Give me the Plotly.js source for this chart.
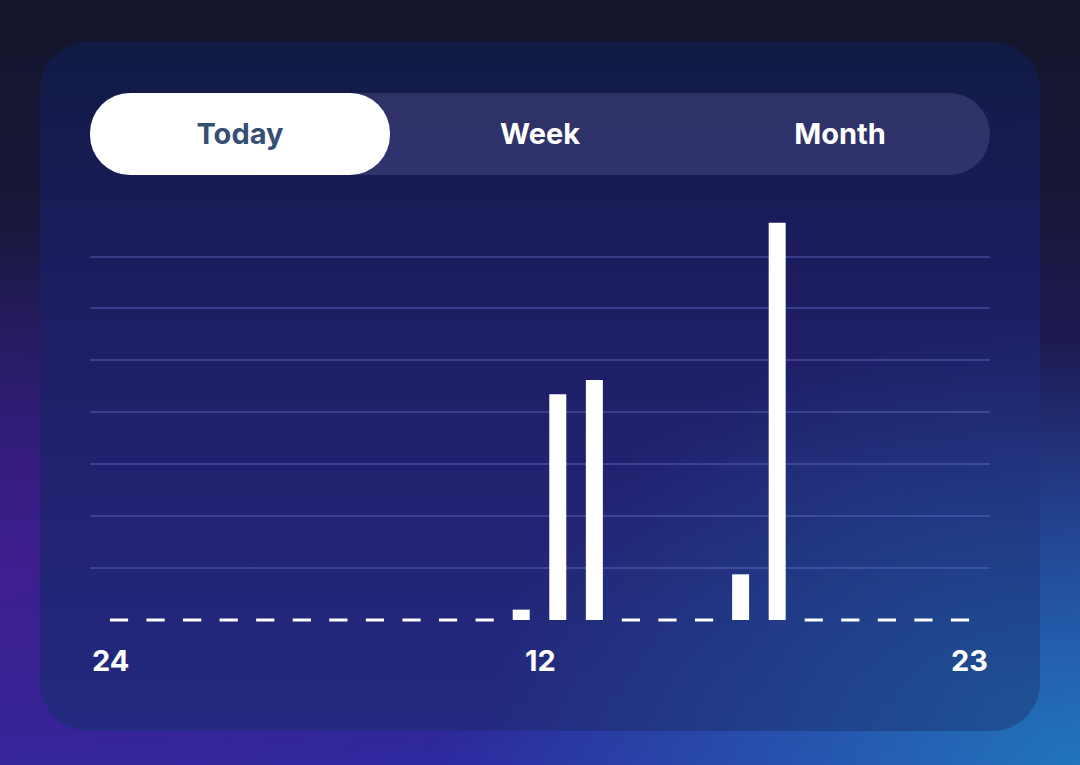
<!DOCTYPE html>
<html>
<head>
<meta charset="utf-8">
<script src="https://cdn.plot.ly/plotly-3.0.1.min.js"></script>
<style>
  html, body { margin: 0; padding: 0; width: 1080px; height: 765px; overflow: hidden; }
  body {
    position: relative;
    font-family: Inter, "Open Sans", Roboto, sans-serif;
    background:
      radial-gradient(ellipse 60% 55% at 100% 100%, rgba(32,125,190,0.9) 0%, rgba(32,120,190,0) 100%),
      radial-gradient(ellipse 55% 45% at 0% 75%, rgba(70,30,150,0.75) 0%, rgba(70,30,150,0) 100%),
      linear-gradient(to bottom, #14152a 0%, #171838 25%, #221c66 60%, #2d29a0 100%);
  }
  #card {
    position: absolute; left: 40px; top: 42px; width: 1000px; height: 689px;
    border-radius: 48px;
    background:
      radial-gradient(ellipse 55% 60% at 100% 100%, rgba(30,85,150,0.95) 0%, rgba(30,80,150,0) 100%),
      linear-gradient(to bottom, #111b44 0%, #1a1c5c 30%, #22216f 60%, #242a80 100%);
  }
  #seg {
    position: absolute; left: 90px; top: 93px; width: 900px; height: 82px;
    border-radius: 41px; background: rgba(80,80,140,0.45);
  }
  #today {
    position: absolute; left: 90px; top: 93px; width: 300px; height: 82px;
    border-radius: 40px; background: #ffffff;
  }
  .lbl {
    position: absolute; top: 93px; height: 82px; width: 300px; line-height: 82px;
    text-align: center; font-size: 29px; font-weight: 700; color: #ffffff;
  }
  #chart { position: absolute; left: 0; top: 0; width: 1080px; height: 765px; }
</style>
</head>
<body>
<div id="card"></div>
<div id="seg"></div>
<div id="today"></div>
<div class="lbl" style="left:90px;color:#374f74;">Today</div>
<div class="lbl" style="left:390px;">Week</div>
<div class="lbl" style="left:690px;">Month</div>
<div id="chart"></div>
<script>
// Hourly values (24 slots, left to right)
const hours = [0,1,2,3,4,5,6,7,8,9,10,11,12,13,14,15,16,17,18,19,20,21,22,23];
const values = [0,0,0,0,0,0,0,0,0,0,0,0.2,4.35,4.62,0,0,0,0.88,7.65,0,0,0,0,0];
const tickLabels = ['24','12','23'];
const tickPos = [0, 0.5, 1];
const tickAnchor = ['left','center','right'];
const gridVals = [0,1,2,3,4,5,6,7];

const zeroX = hours.filter((h,i) => values[i] === 0);
const zeroY = zeroX.map(() => 0);
const barX = hours.filter((h,i) => values[i] > 0);
const barY = values.filter(v => v > 0);

const traces = [
  {
    type: 'bar', x: barX, y: barY, width: 0.465,
    marker: { color: '#ffffff', line: { width: 0 } },
    hoverinfo: 'none'
  },
  {
    type: 'scatter', mode: 'markers', x: zeroX, y: zeroY,
    marker: { symbol: 'line-ew', size: 13, color: '#ffffff', line: { color: '#ffffff', width: 3 } },
    hoverinfo: 'none', cliponaxis: false
  }
];

const layout = {
  width: 1080, height: 765,
  margin: { l: 90, r: 90, t: 215, b: 145 },
  paper_bgcolor: 'rgba(0,0,0,0)',
  plot_bgcolor: 'rgba(0,0,0,0)',
  showlegend: false,
  xaxis: {
    range: [-0.793, 23.82], showgrid: false, zeroline: false,
    showticklabels: false, ticks: '', fixedrange: true
  },
  yaxis: {
    range: [0, 7.8], tickvals: gridVals, showticklabels: false, ticks: '',
    showgrid: true, gridcolor: 'rgba(115,120,215,0.35)', gridwidth: 2,
    zeroline: false, fixedrange: true
  },
  annotations: tickLabels.map((t, i) => ({
    text: t, xref: 'paper', yref: 'paper', x: tickPos[i], y: -0.1,
    xanchor: tickAnchor[i], yanchor: 'middle', showarrow: false,
    font: { family: 'Inter, "Open Sans", sans-serif', size: 29, color: '#ffffff', weight: 700 }
  }))
};

Plotly.newPlot('chart', traces, layout, { staticPlot: true, displayModeBar: false });
</script>
</body>
</html>
